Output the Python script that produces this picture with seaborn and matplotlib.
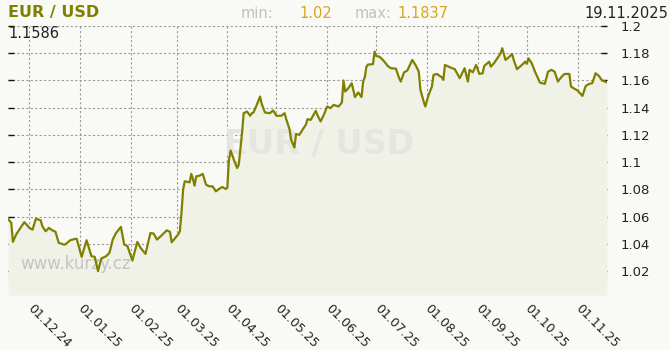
import matplotlib
matplotlib.use("Agg")
import matplotlib.pyplot as plt
import matplotlib.dates as mdates
import seaborn as sns
import pandas as pd

dates = [
    "2024-11-18", "2024-11-20", "2024-11-21", "2024-11-23", "2024-11-26", "2024-11-28",
    "2024-12-01", "2024-12-03", "2024-12-05", "2024-12-08", "2024-12-09", "2024-12-11",
    "2024-12-13", "2024-12-15", "2024-12-17", "2024-12-19", "2024-12-22", "2024-12-23",
    "2024-12-26", "2024-12-29", "2024-12-30",
    "2025-01-02", "2025-01-05", "2025-01-08", "2025-01-10", "2025-01-12", "2025-01-14",
    "2025-01-17", "2025-01-19", "2025-01-21", "2025-01-23", "2025-01-26", "2025-01-28",
    "2025-01-30",
    "2025-02-02", "2025-02-05", "2025-02-07", "2025-02-10", "2025-02-13", "2025-02-15",
    "2025-02-17", "2025-02-20", "2025-02-23", "2025-02-25", "2025-02-26",
    "2025-03-02", "2025-03-03", "2025-03-04", "2025-03-05", "2025-03-06", "2025-03-09",
    "2025-03-10", "2025-03-11", "2025-03-12", "2025-03-13", "2025-03-15", "2025-03-17",
    "2025-03-19", "2025-03-21", "2025-03-23", "2025-03-25", "2025-03-27", "2025-03-29",
    "2025-03-31",
    "2025-04-01", "2025-04-02", "2025-04-03", "2025-04-05", "2025-04-07", "2025-04-08",
    "2025-04-10", "2025-04-11", "2025-04-13", "2025-04-15", "2025-04-16", "2025-04-17",
    "2025-04-19", "2025-04-21", "2025-04-22", "2025-04-24", "2025-04-27", "2025-04-29",
    "2025-05-01", "2025-05-04", "2025-05-06", "2025-05-07", "2025-05-09", "2025-05-10",
    "2025-05-12", "2025-05-13", "2025-05-15", "2025-05-18", "2025-05-19", "2025-05-20",
    "2025-05-22", "2025-05-25", "2025-05-26", "2025-05-28", "2025-05-30",
    "2025-06-01", "2025-06-03", "2025-06-05", "2025-06-08", "2025-06-10", "2025-06-11",
    "2025-06-12", "2025-06-14", "2025-06-16", "2025-06-17", "2025-06-18", "2025-06-20",
    "2025-06-22", "2025-06-23", "2025-06-24", "2025-06-25", "2025-06-26", "2025-06-29",
    "2025-06-30",
    "2025-07-01", "2025-07-03", "2025-07-06", "2025-07-08", "2025-07-10", "2025-07-13",
    "2025-07-15", "2025-07-16", "2025-07-18", "2025-07-20", "2025-07-23", "2025-07-25",
    "2025-07-27", "2025-07-28", "2025-07-30", "2025-07-31",
    "2025-08-02", "2025-08-04", "2025-08-05", "2025-08-07", "2025-08-10", "2025-08-11",
    "2025-08-12", "2025-08-15", "2025-08-18", "2025-08-21", "2025-08-24", "2025-08-26",
    "2025-08-27", "2025-08-29", "2025-08-31",
    "2025-09-02", "2025-09-04", "2025-09-05", "2025-09-08", "2025-09-09", "2025-09-11",
    "2025-09-13", "2025-09-15", "2025-09-16", "2025-09-18", "2025-09-20", "2025-09-22",
    "2025-09-23", "2025-09-25", "2025-09-28", "2025-09-30",
    "2025-10-01", "2025-10-02", "2025-10-04", "2025-10-06", "2025-10-09", "2025-10-12",
    "2025-10-14", "2025-10-16", "2025-10-18", "2025-10-20", "2025-10-22", "2025-10-24",
    "2025-10-27", "2025-10-28",
    "2025-11-01", "2025-11-04", "2025-11-06", "2025-11-08", "2025-11-10", "2025-11-12",
    "2025-11-14", "2025-11-16", "2025-11-19",
]

rates = [
    1.0584, 1.0555, 1.0415, 1.0470, 1.0525, 1.0560,
    1.0518, 1.0505, 1.0585, 1.0573, 1.0529, 1.0493,
    1.0518, 1.0500, 1.0490, 1.0408, 1.0396, 1.0396,
    1.0427, 1.0437, 1.0437,
    1.0305, 1.0427, 1.0310, 1.0305, 1.0200, 1.0293,
    1.0310, 1.0335, 1.0432, 1.0480, 1.0525, 1.0396,
    1.0384,
    1.0278, 1.0415, 1.0371, 1.0327, 1.0480, 1.0476,
    1.0432, 1.0464, 1.0500, 1.0488, 1.0412,
    1.0470, 1.0493, 1.0628, 1.0799, 1.0860, 1.0852,
    1.0914, 1.0877, 1.0828, 1.0896, 1.0901, 1.0914,
    1.0835, 1.0823, 1.0823, 1.0786, 1.0804, 1.0818,
    1.0804,
    1.0811, 1.1018, 1.1086, 1.1018, 1.0957, 1.0982,
    1.1214, 1.1360, 1.1372, 1.1341, 1.1360, 1.1365,
    1.1421, 1.1482, 1.1429, 1.1365, 1.1360, 1.1380,
    1.1341, 1.1341, 1.1360, 1.1316, 1.1243, 1.1165,
    1.1108, 1.1207, 1.1201, 1.1258, 1.1275, 1.1316,
    1.1311, 1.1377, 1.1348, 1.1299, 1.1348,
    1.1409, 1.1397, 1.1421, 1.1409, 1.1438, 1.1600,
    1.1519, 1.1544, 1.1580, 1.1531, 1.1478, 1.1512,
    1.1478, 1.1592, 1.1624, 1.1702, 1.1717, 1.1720,
    1.1812,
    1.1780, 1.1775, 1.1738, 1.1707, 1.1690, 1.1687,
    1.1617, 1.1592, 1.1660, 1.1673, 1.1751, 1.1714,
    1.1665, 1.1531, 1.1445, 1.1409,
    1.1495, 1.1555, 1.1641, 1.1648, 1.1624, 1.1604,
    1.1714, 1.1697, 1.1683, 1.1617, 1.1690, 1.1592,
    1.1678, 1.1660, 1.1714,
    1.1648, 1.1653, 1.1707, 1.1738, 1.1702, 1.1727,
    1.1763, 1.1800, 1.1837, 1.1751, 1.1771, 1.1795,
    1.1751, 1.1683, 1.1714, 1.1738,
    1.1722, 1.1763, 1.1727, 1.1665, 1.1585, 1.1575,
    1.1665, 1.1678, 1.1665, 1.1592, 1.1624, 1.1648,
    1.1648, 1.1555,
    1.1526, 1.1487, 1.1560, 1.1575, 1.1580, 1.1653,
    1.1634, 1.1600, 1.1586,
]

y_ticks = [1.02, 1.04, 1.06, 1.08, 1.1, 1.12, 1.14, 1.16, 1.18, 1.2]
y_tick_labels = ["1.02", "1.04", "1.06", "1.08", "1.1", "1.12", "1.14", "1.16", "1.18", "1.2"]

title = "EUR / USD"
last_value = "1.1586"
min_value = "1.02"
max_value = "1.1837"
date_label = "19.11.2025"
site = "www.kurzy.cz"

BG = "#f9faf5"
FILL = "#f0f1e7"
LINE = "#808000"
GOLD = "#d9a521"

sns.set_style("white")
plt.rcParams["font.family"] = ["DejaVu Sans"]

df = pd.DataFrame({"date": pd.to_datetime(dates), "rate": rates})
y_low, y_high = 1.0025, 1.2

fig = plt.figure(figsize=(6.7, 3.5), dpi=100, facecolor=BG)
ax = fig.add_axes([8 / 670, 1 - 295 / 350, (607 - 8) / 670, (295 - 26) / 350])
ax.set_facecolor(BG)

ax.fill_between(df["date"], df["rate"], y_low, color=FILL, lw=0, zorder=1)
sns.lineplot(data=df, x="date", y="rate", ax=ax, color=LINE, lw=1.6, zorder=4)

ax.text(0.52, 0.56, title, transform=ax.transAxes, ha="center", va="center",
        fontsize=24, fontweight="bold", color="#e5e6e0", zorder=2)
ax.text(0.02, 0.115, site, transform=ax.transAxes, ha="left", va="center",
        fontsize=12, color="#c4c4c4", zorder=2)

ax.set_xlim(df["date"].iloc[0], df["date"].iloc[-1])
ax.set_ylim(y_low, y_high)
ax.set_yticks(y_ticks)
ax.set_yticklabels(y_tick_labels)
ax.xaxis.set_major_locator(mdates.MonthLocator())
ax.xaxis.set_minor_locator(mdates.DayLocator(bymonthday=[11, 21]))
ax.xaxis.set_major_formatter(mdates.DateFormatter("%d.%m.%y"))

ax.grid(True, which="major", axis="both", color="#9a9a9a", linestyle=(0, (2, 2)), lw=0.8, zorder=0)
ax.set_axisbelow(True)
for s in ax.spines.values():
    s.set_visible(False)

ax.tick_params(axis="y", left=True, right=True, direction="in", length=4, width=1,
               color="#111111", labelleft=False, labelright=True, labelsize=9.5,
               labelcolor="#222222", pad=10)
ax.tick_params(axis="x", which="major", direction="out", length=4, width=1, color="#333333",
               labelsize=9, labelcolor="#222222", pad=4)
ax.tick_params(axis="x", which="minor", direction="out", length=3, width=1, color="#333333")
for lab in ax.get_xticklabels():
    lab.set_rotation(-45)
    lab.set_ha("left")
    lab.set_va("center")
    lab.set_rotation_mode("anchor")
ax.set_xlabel("")
ax.set_ylabel("")

def px(x, y):
    return x / 670, 1 - y / 350

fig.text(*px(8, 13), title, ha="left", va="center", fontsize=11.5, fontweight="bold", color=LINE)
fig.text(*px(8, 33), last_value, ha="left", va="center", fontsize=10.5, color="#222222")
fig.text(*px(241, 13), "min:", ha="left", va="center", fontsize=10.5, color="#c0c0c0")
fig.text(*px(299, 13), min_value, ha="left", va="center", fontsize=10.5, color=GOLD)
fig.text(*px(355, 13), "max:", ha="left", va="center", fontsize=10.5, color="#c0c0c0")
fig.text(*px(397, 13), max_value, ha="left", va="center", fontsize=10.5, color=GOLD)
fig.text(*px(668, 13), date_label, ha="right", va="center", fontsize=10.5, color="#222222")

fig.savefig("out.png", dpi=100, facecolor=BG)
